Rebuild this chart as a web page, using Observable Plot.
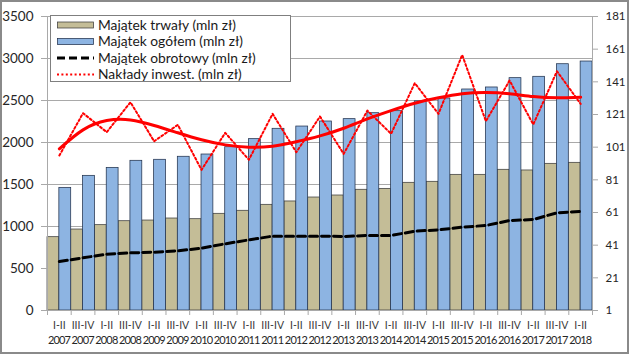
<!DOCTYPE html>
<html><head><meta charset="utf-8">
<script src="https://cdn.jsdelivr.net/npm/d3@7"></script>
<script src="https://cdn.jsdelivr.net/npm/@observablehq/plot@0.6"></script>
<style>
body{margin:0;background:#fff}
#wrap{position:relative;width:629px;height:354px;overflow:hidden;background:#fff}
#chart{position:absolute;left:0;top:0}
#frame{position:absolute;left:0;top:0;width:629px;height:354px;box-sizing:border-box;border:2px solid #8a8a8a;pointer-events:none}
#legend{position:absolute;left:50px;top:15px;width:241px;height:67px;box-sizing:border-box;border:1px solid #7f7f7f;background:#fff}
</style></head><body>
<div id="wrap"><div id="chart"></div><div id="legend"></div><div id="frame"></div></div>
<script>
// ---- data ----
const periods = ["I-II","III-IV","I-II","III-IV","I-II","III-IV","I-II","III-IV","I-II","III-IV","I-II","III-IV","I-II","III-IV","I-II","III-IV","I-II","III-IV","I-II","III-IV","I-II","III-IV","I-II"];
const years = ["2007","2007","2008","2008","2009","2009","2010","2010","2011","2011","2012","2012","2013","2013","2014","2014","2015","2015","2016","2016","2017","2017","2018"];
const majatekTrwaly = [873,964,1016,1063,1071,1095,1087,1151,1187,1258,1298,1345,1369,1437,1448,1520,1532,1615,1615,1675,1667,1746,1758];
const majatekOgolem = [1460,1603,1698,1782,1794,1830,1857,1944,2040,2163,2190,2250,2278,2349,2373,2490,2524,2631,2655,2766,2782,2932,2964];
const majatekObrotowy = [583,627,670,686,694,710,742,794,841,885,885,885,881,893,893,944,960,992,1012,1071,1083,1163,1178];
const nakladyInwest = [95.9,121.8,110.2,128.5,104.6,114.7,87.1,109.8,93.3,121.4,97.9,119.8,96.9,123.4,109.2,140.2,121.4,157.5,116.9,141.8,114.9,147.5,127.5];
const nakladyTrend = [100,111.6,117.3,117.7,114.3,109.8,105.5,102.4,101,101.6,104.3,107.9,112.6,118.3,123.4,127.9,131.2,133.7,134.5,133.7,132,131.2,131.6];
const leftTicks = [0,500,1000,1500,2000,2500,3000,3500];
const rightTicks = [1,21,41,61,81,101,121,141,161,181];
const seriesNames = ["Majątek trwały (mln zł)","Majątek ogółem (mln zł)","Majątek obrotowy (mln zł)","Nakłady inwest. (mln zł)"];

// ---- styling ----
const tanColor = "#c4bd97", blueColor = "#8db4e2";
const gridColor = "#a9a9a9";
const n = periods.length;
const idx = d3.range(n);
const LMAX = 3500, RMIN = 1, RMAX = 181;
const toLeft = v => (v - RMIN) * LMAX / (RMAX - RMIN);
const fromLeft = d => String(Math.round(RMIN + d * (RMAX - RMIN) / LMAX));

const chart = Plot.plot({
  width: 629, height: 354,
  marginLeft: 47, marginRight: 37, marginTop: 16, marginBottom: 44,
  style: {background: "transparent", fontFamily: "Lato, sans-serif"},
  x: {type: "linear", domain: [0, n]},
  y: {domain: [0, LMAX]},
  marks: [
    Plot.ruleY(leftTicks, {stroke: gridColor, strokeWidth: 1}),
    Plot.rectY(idx, {x1: i => i, x2: i => i + 0.5, y: i => majatekTrwaly[i], fill: tanColor, stroke: "#3d3d3d", strokeWidth: 0.75}),
    Plot.rectY(idx, {x1: i => i + 0.5, x2: i => i + 1, y: i => majatekOgolem[i], fill: blueColor, stroke: "#22324d", strokeWidth: 0.75}),
    Plot.ruleX([0, n], {stroke: gridColor}),
    Plot.ruleY([0], {stroke: gridColor}),
    Plot.line(idx, {x: i => i + 0.5, y: i => majatekObrotowy[i], stroke: "#000", strokeWidth: 3, strokeDasharray: "8,4"}),
    Plot.line(idx, {x: i => i + 0.5, y: i => toLeft(nakladyInwest[i]), stroke: "#ff0000", strokeWidth: 2, strokeDasharray: "2,2.4"}),
    Plot.line(idx, {x: i => i + 0.5, y: i => toLeft(nakladyTrend[i]), stroke: "#ff0000", strokeWidth: 3, curve: "natural"}),
    Plot.axisY({ticks: leftTicks, tickFormat: d => String(d), tickSize: 6, tickPadding: 8, stroke: gridColor, color: "#262626", fontSize: 13.5, fontFamily: "Lato, sans-serif", label: null}),
    Plot.axisY({anchor: "right", ticks: rightTicks.map(toLeft), tickFormat: fromLeft, tickSize: 5, tickPadding: 8, stroke: gridColor, color: "#262626", fontSize: 11.5, fontFamily: "Lato, sans-serif", label: null}),
    Plot.axisX({ticks: d3.range(n + 1), tickSize: 5, tickFormat: () => "", stroke: gridColor, label: null}),
    Plot.axisX({ticks: idx.map(i => i + 0.5), tickSize: 0, tickPadding: 11,
      tickFormat: d => periods[Math.floor(d)],
      color: "#3a3a3a", fontSize: 10.5, fontFamily: "Lato, sans-serif", label: null}),
    Plot.axisX({ticks: idx.map(i => i + 0.5), tickSize: 0, tickPadding: 25.5,
      tickFormat: d => years[Math.floor(d)],
      color: "#262626", fontSize: 11, fontFamily: "Lato, sans-serif", label: null})
  ]
});
document.getElementById("chart").appendChild(chart);
// tighten year labels (no narrow font available)
d3.select(chart).selectAll("g")
  .filter(function() { return this.getAttribute("font-size") === "11"; })
  .selectAll("text")
  .style("letter-spacing", "-0.85px").attr("dx", -0.4);

// ---- legend ----
const rowsY = [9, 25.5, 42, 58.5];
let s = `<svg width="239" height="65" xmlns="http://www.w3.org/2000/svg" style="font-family:Lato,sans-serif;font-size:13.8px">`;
s += `<rect x="6.5" y="${rowsY[0]-3}" width="36" height="6" fill="${tanColor}" stroke="#3d3d3d" stroke-width="0.75"/>`;
s += `<rect x="6.5" y="${rowsY[1]-3}" width="36" height="6" fill="${blueColor}" stroke="#22324d" stroke-width="0.75"/>`;
s += `<line x1="6" x2="43" y1="${rowsY[2]}" y2="${rowsY[2]}" stroke="#000" stroke-width="3" stroke-dasharray="8,4"/>`;
s += `<line x1="6" x2="43" y1="${rowsY[3]}" y2="${rowsY[3]}" stroke="#ff0000" stroke-width="2" stroke-dasharray="2,2.4"/>`;
seriesNames.forEach((t, k) => { s += `<text x="47" y="${rowsY[k] + 4.8}" fill="#1a1a1a">${t}</text>`; });
s += `</svg>`;
document.getElementById("legend").innerHTML = s;
</script>
</body></html>
